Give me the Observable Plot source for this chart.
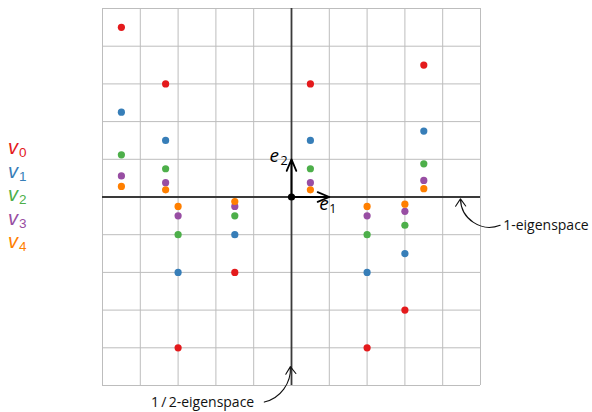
<!DOCTYPE html>
<html>
<head>
<meta charset="utf-8">
<script src="https://cdn.jsdelivr.net/npm/d3@7"></script>
<script src="https://cdn.jsdelivr.net/npm/@observablehq/plot@0.6"></script>
<style>
  html, body { margin: 0; padding: 0; background: #fff; }
  #wrap { position: relative; width: 592px; height: 412px; font-family: "Open Sans", Lato, sans-serif; }
  #legend { position: absolute; left: 8px; top: 137px; }
  #legend div { height: 23.5px; line-height: 20px; white-space: nowrap; }
  #legend .v { font-style: italic; font-size: 20px; line-height: 20px; font-family: "Liberation Sans", sans-serif; }
  #legend .s { font-size: 13.5px; line-height: 14px; position: relative; top: 3px; margin-left: 1px; font-family: "Liberation Sans", sans-serif; }
</style>
</head>
<body>
<div id="wrap"><div id="legend"></div></div>
<script>
// x-coordinates shared by all iterates
const xs = [-4.5, -3.33, -3, -1.5, 0.5, 2, 3, 3.5];
// y-values of each series
const v0 = [4.5, 3, -4, -2, 3, -4, -3, 3.5];
const v1 = [2.25, 1.5, -2, -1, 1.5, -2, -1.5, 1.75];
const v2 = [1.12, 0.75, -1, -0.5, 0.75, -1, -0.75, 0.88];
const v3 = [0.56, 0.38, -0.5, -0.25, 0.38, -0.5, -0.38, 0.44];
const v4 = [0.28, 0.19, -0.25, -0.12, 0.19, -0.25, -0.19, 0.22];
const seriesNames = ["v0", "v1", "v2", "v3", "v4"];
const seriesColors = ["#e41a1c", "#377eb8", "#4daf4a", "#984ea3", "#ff7f00"];
const gridTicks = [-5, -4, -3, -2, -1, 0, 1, 2, 3, 4, 5];
const basis = [{x: 1, y: 0, label: "e", sub: "1"}, {x: 0, y: 1, label: "e", sub: "2"}];
const annotations = [
  {text: "1-eigenspace", tx: 5.6, ty: -0.75, fromX: 5.52, fromY: -0.75, toX: 4.47, toY: -0.05},
  {text: "1\u2009/\u20092-eigenspace", tx: -3.72, ty: -5.44, fromX: -0.72, fromY: -5.44, toX: -0.03, toY: -4.5}
];

const allSeries = [v0, v1, v2, v3, v4];
const points = allSeries.flatMap((vals, i) => vals.map((y, j) => ({x: xs[j], y, s: seriesNames[i]})));
const e1 = basis.filter(d => d.sub === "1");
const e2 = basis.filter(d => d.sub === "2");

const chart = Plot.plot({
  width: 592, height: 412,
  marginLeft: 102, marginRight: 112, marginTop: 8, marginBottom: 27,
  x: {domain: [-5, 5], axis: null},
  y: {domain: [-5, 5], axis: null},
  color: {domain: seriesNames, range: seriesColors},
  style: {fontFamily: "'Open Sans', Lato, sans-serif", overflow: "visible"},
  marks: [
    Plot.ruleX(gridTicks, {y1: -5, y2: 5, stroke: "#bdbdbd", strokeWidth: 1}),
    Plot.ruleY(gridTicks, {x1: -5, x2: 5, stroke: "#bdbdbd", strokeWidth: 1}),
    Plot.ruleX([0], {y1: -5, y2: 5, stroke: "#3a3a3a", strokeWidth: 1.8}),
    Plot.ruleY([0], {x1: -5, x2: 5, stroke: "#3a3a3a", strokeWidth: 1.8}),
    Plot.dot(points, {x: "x", y: "y", fill: "s", r: 3.6}),
    Plot.arrow(basis, {x1: 0, y1: 0, x2: "x", y2: "y", stroke: "black", strokeWidth: 1.8, headLength: 12, headAngle: 45}),
    Plot.dot([{x: 0, y: 0}], {x: "x", y: "y", fill: "black", r: 3.6}),
    // e1 label
    Plot.text(e1, {x: "x", y: "y", text: "label", fontStyle: "italic", fontSize: 19, dx: -10, dy: 7, textAnchor: "start"}),
    Plot.text(e1, {x: "x", y: "y", text: "sub", fontSize: 12.5, dx: 0, dy: 12, textAnchor: "start"}),
    // e2 label
    Plot.text(e2, {x: "x", y: "y", text: "label", fontStyle: "italic", fontSize: 19, dx: -22, dy: -3, textAnchor: "start"}),
    Plot.text(e2, {x: "x", y: "y", text: "sub", fontSize: 12.5, dx: -11, dy: 2, textAnchor: "start"}),
    // annotations
    Plot.text(annotations, {x: "tx", y: "ty", text: "text", fontSize: 14, fill: "#111", textAnchor: "start"}),
    Plot.arrow(annotations.slice(0, 1), {x1: "fromX", y1: "fromY", x2: "toX", y2: "toY", bend: 55, stroke: "#111", strokeWidth: 1.1, headLength: 12, headAngle: 70}),
    Plot.arrow(annotations.slice(1), {x1: "fromX", y1: "fromY", x2: "toX", y2: "toY", bend: -40, stroke: "#111", strokeWidth: 1.1, headLength: 12, headAngle: 70})
  ]
});
document.getElementById("wrap").appendChild(chart);

// legend
const legend = document.getElementById("legend");
seriesNames.forEach((name, i) => {
  const row = document.createElement("div");
  row.style.color = seriesColors[i];
  row.innerHTML = `<span class="v">${name[0]}</span><span class="s">${name.slice(1)}</span>`;
  legend.appendChild(row);
});
</script>
</body>
</html>
